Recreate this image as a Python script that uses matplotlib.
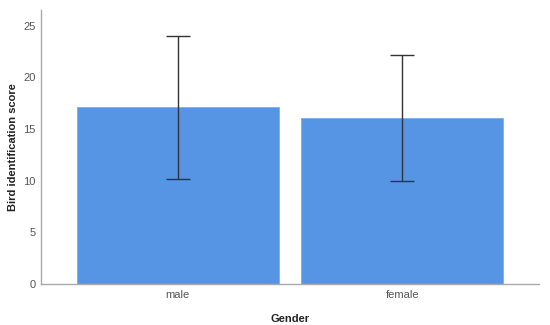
import matplotlib
matplotlib.use("Agg")
import matplotlib.pyplot as plt

categories = ["male", "female"]
means = [17.1, 16.1]
err_low = [10.2, 10.0]
err_high = [24.0, 22.1]

plt.rcParams['font.family'] = ['Liberation Sans', 'DejaVu Sans']
fig = plt.figure(figsize=(5.5, 3.25), dpi=100)
ax = fig.add_axes([41/550, 41/325, 498/550, 274/325])
x = list(range(len(categories)))
ax.bar(x, means, width=0.9, color="#5595E4", edgecolor="#7aaeee", linewidth=0.6, zorder=2)
yerr = [[m - l for m, l in zip(means, err_low)], [h - m for m, h in zip(means, err_high)]]
ax.errorbar(x, means, yerr=yerr, fmt="none", ecolor="#333333", elinewidth=1.0, capsize=8.6, capthick=1.0, zorder=3)
ax.set_xlim(-0.61, 1.61)
ax.set_ylim(0, 26.5)
ax.set_yticks([0, 5, 10, 15, 20, 25])
ax.set_xticks(x)
ax.set_xticklabels(categories)
ax.tick_params(axis="both", length=0, colors="#555555", labelsize=8, pad=4)
for s in ["top", "right"]:
    ax.spines[s].set_visible(False)
for s in ["left", "bottom"]:
    ax.spines[s].set_color("#aaaaaa")
    ax.spines[s].set_linewidth(1.0)
ax.set_xlabel("Gender", fontsize=8, fontweight="bold", color="#222222")
ax.set_ylabel("Bird identification score", fontsize=8, fontweight="bold", color="#222222")
ax.yaxis.set_label_coords(-0.046, 0.5)
ax.xaxis.set_label_coords(0.5, -0.11)
fig.savefig("out.png", dpi=100)
